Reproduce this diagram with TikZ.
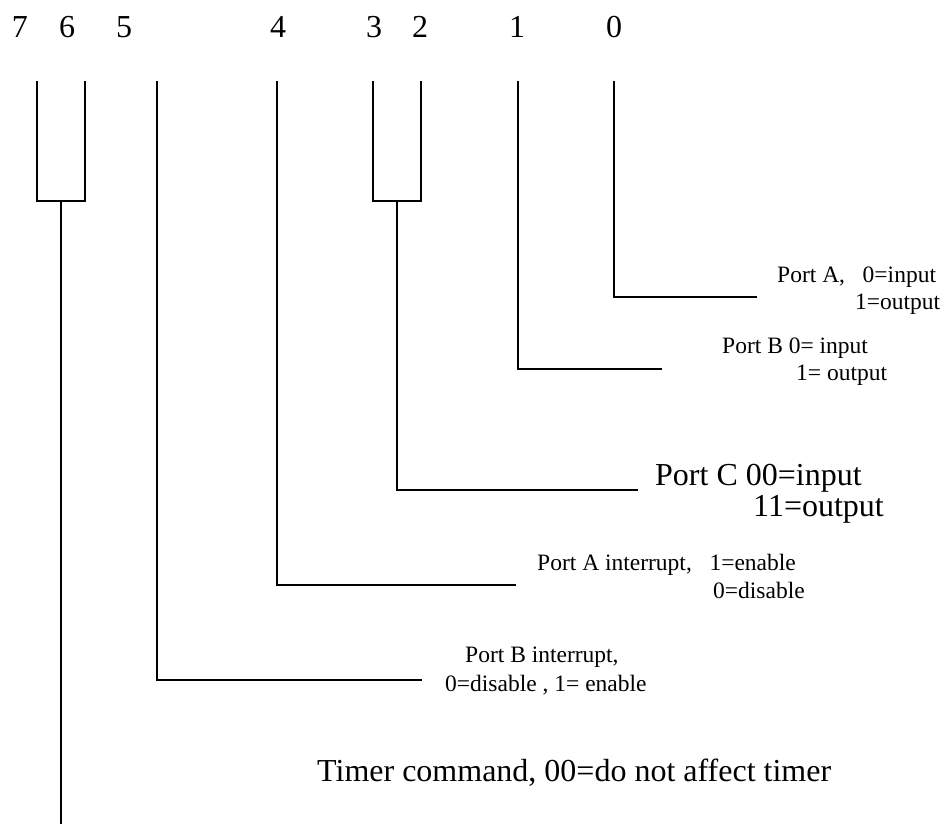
\documentclass[tikz,border=0pt]{standalone}
\usepackage{fontspec}
\setmainfont{Liberation Serif}
\begin{document}
\begin{tikzpicture}[x=1pt,y=-1pt,
  wire/.style={line width=2pt,line cap=rect},
  bitnum/.style={font=\fontsize{32}{36}\selectfont,inner sep=0pt,anchor=base},
  small/.style={font=\fontsize{23.5}{27}\selectfont,inner sep=0pt,anchor=base west},
  large/.style={font=\fontsize{32}{36}\selectfont,inner sep=0pt,anchor=base west}]
\useasboundingbox (0,0) rectangle (946,823);

% bit numbers
\node[bitnum] (b7) at (20,37) {7};
\node[bitnum] (b6) at (67,37) {6};
\node[bitnum] (b5) at (124,37) {5};
\node[bitnum] (b4) at (278,37) {4};
\node[bitnum] (b3) at (374,37) {3};
\node[bitnum] (b2) at (420,37) {2};
\node[bitnum] (b1) at (517,37) {1};
\node[bitnum] (b0) at (614,37) {0};

% tops of the bit lines
\coordinate (t7) at (37,82);
\coordinate (t6) at (85,82);
\coordinate (t5) at (157,82);
\coordinate (t4) at (277,82);
\coordinate (t3) at (373,82);
\coordinate (t2) at (421,82);
\coordinate (t1) at (518,82);
\coordinate (t0) at (614,82);

% two-bit fields: brackets joining their lines
\coordinate (m76) at (61,201);
\coordinate (m32) at (397,201);
\draw[wire] (t7) |- (m76) -| (t6);
\draw[wire] (t3) |- (m32) -| (t2);

% free ends of the horizontal leaders
\coordinate (e0) at (756,297);
\coordinate (e1) at (661,369);
\coordinate (e32) at (637,490);
\coordinate (e4) at (515,585);
\coordinate (e5) at (421,680);
\coordinate (e76) at (61,823);

\draw[wire] (t0) |- (e0);
\draw[wire] (t1) |- (e1);
\draw[wire] (m32) |- (e32);
\draw[wire] (t4) |- (e4);
\draw[wire] (t5) |- (e5);
\draw[wire] (m76) -- (e76);

% field descriptions
\node[small] (pa1) at (777,282) {Port A,\ \ \ 0=input};
\node[small] (pa2) at (855,309) {1=output};
\node[small] (pb1) at (722,353) {Port B 0= input};
\node[small] (pb2) at (796,380) {1= output};
\node[large] (pc1) at (655,485) {Port C 00=input};
\node[large] (pc2) at (753,516) {11=output};
\node[small] (ai1) at (537,570) {Port A interrupt,\ \ \ 1=enable};
\node[small] (ai2) at (713,598) {0=disable};
\node[small] (bi1) at (465,662) {Port B interrupt,};
\node[small] (bi2) at (445,691) {0=disable , 1= enable};
\node[large] (tc) at (317,781) {Timer command, 00=do not affect timer};
\end{tikzpicture}
\end{document}
